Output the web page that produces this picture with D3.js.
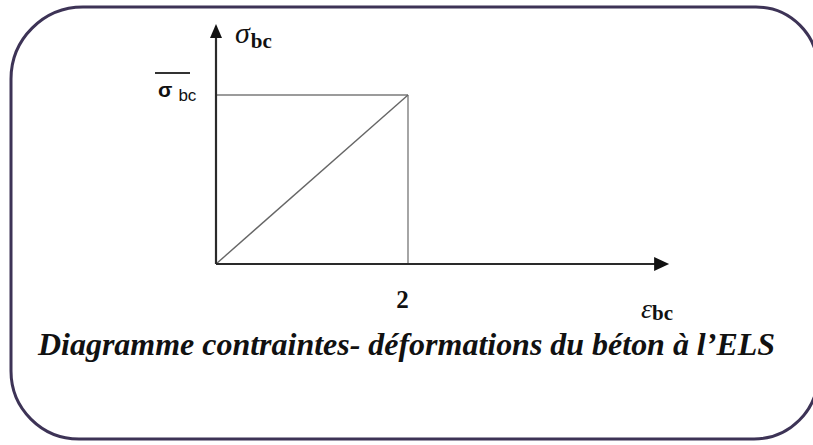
<!DOCTYPE html>
<html>
<head>
<meta charset="utf-8">
<script src="https://cdn.jsdelivr.net/npm/d3@7"></script>
<style>
  html, body { margin: 0; padding: 0; background: #fff; overflow: hidden; }
  svg { display: block; }
</style>
</head>
<body>
<div id="chart"></div>
<script>
// Data: ELS stress-strain diagram of concrete (linear up to 2‰)
const strain = [0, 2];          // εbc (‰)
const stress = [0, 1];          // σbc / σ̄bc
const xAxisMax = 4.72;          // end of the strain arrow
const yAxisMax = 1.42;          // end of the stress arrow
const xTickValues = [2];
const xTickLabels = ["2"];
const caption = "Diagramme contraintes- déformations du béton à l\u2019ELS";

const width = 813, height = 445;
const serif = '"Liberation Serif"', sans = '"Liberation Sans"';

let svg = d3.select("#chart")
    .append("svg")
    .attr("width", width)
    .attr("height", height)
    .attr("viewBox", [0, 0, width, height]);

// rounded frame (right side runs just past the window edge)
const fl = 11, ft = 7, fr = 818, fb = 439;
let frame = d3.path();
frame.moveTo(fl + 72, ft);
frame.lineTo(fr - 62, ft);
frame.arcTo(fr, ft, fr, ft + 62, 62);
frame.lineTo(fr, fb - 64);
frame.arcTo(fr, fb, fr - 64, fb, 64);
frame.lineTo(fl + 68, fb);
frame.arcTo(fl, fb, fl, fb - 68, 68);
frame.lineTo(fl, ft + 72);
frame.arcTo(fl, ft, fl + 72, ft, 72);
frame.closePath();
svg.append("path")
    .attr("d", frame.toString())
    .attr("fill", "none")
    .attr("stroke", "#3d3356")
    .attr("stroke-width", 3);

let x = d3.scaleLinear()      // strain -> pixels
    .domain([0, 2])
    .range([216, 408]);

let y = d3.scaleLinear()      // stress -> pixels
    .domain([0, 1])
    .range([264, 95]);

// guide lines to the peak point
svg.append("line")
    .attr("x1", x(0)).attr("x2", x(strain[1]))
    .attr("y1", y(stress[1])).attr("y2", y(stress[1]))
    .attr("stroke", "#7a7a7a").attr("stroke-width", 1.3);

svg.append("line")
    .attr("x1", x(strain[1])).attr("x2", x(strain[1]))
    .attr("y1", y(0)).attr("y2", y(stress[1]))
    .attr("stroke", "#6a6a6a").attr("stroke-width", 1.2);

// the linear law
svg.append("path")
    .datum(strain.map((s, i) => [s, stress[i]]))
    .attr("fill", "none")
    .attr("stroke", "#666")
    .attr("stroke-width", 1.4)
    .attr("d", d3.line().x(d => x(d[0])).y(d => y(d[1])));

// axes with arrows
svg.append("line")
    .attr("x1", x(0)).attr("x2", x(xAxisMax) - 14)
    .attr("y1", y(0)).attr("y2", y(0))
    .attr("stroke", "#2a2a2a").attr("stroke-width", 2.2);

svg.append("path")
    .attr("d", `M${x(xAxisMax)},${y(0)} L${x(xAxisMax) - 15},${y(0) - 7} L${x(xAxisMax) - 15},${y(0) + 7} Z`)
    .attr("fill", "#111");

svg.append("line")
    .attr("x1", x(0)).attr("x2", x(0))
    .attr("y1", y(0)).attr("y2", y(yAxisMax) + 12)
    .attr("stroke", "#2a2a2a").attr("stroke-width", 2.2);

svg.append("path")
    .attr("d", `M${x(0)},${y(yAxisMax)} L${x(0) - 6},${y(yAxisMax) + 14} L${x(0) + 6},${y(yAxisMax) + 14} Z`)
    .attr("fill", "#111");

// tick label "2"
let xAxis = svg.append("g")
    .attr("transform", `translate(0,${y(0)})`)
    .call(d3.axisBottom(x)
        .tickValues(xTickValues)
        .tickFormat((d, i) => xTickLabels[i])
        .tickSize(0)
        .tickPadding(26));
xAxis.select(".domain").remove();
xAxis.selectAll("text")
    .attr("dx", -6)
    .attr("fill", "#111")
    .style("font-family", serif)
    .style("font-weight", "bold")
    .style("font-size", "25px");

// axis names
let yName = svg.append("text")
    .attr("x", x(0) + 19)
    .attr("y", 43)
    .attr("fill", "#111")
    .style("font-family", serif);
yName.append("tspan").text("σ")
    .style("font-style", "italic").style("font-size", "30px");
yName.append("tspan").text("bc")
    .attr("dy", 5).attr("dx", 1)
    .style("font-weight", "bold").style("font-size", "21px");

let xName = svg.append("text")
    .attr("x", 641)
    .attr("y", 318)
    .attr("fill", "#111")
    .style("font-family", serif);
xName.append("tspan").text("ε")
    .style("font-style", "italic").style("font-size", "28px");
xName.append("tspan").text("bc")
    .attr("dy", 2)
    .style("font-weight", "bold").style("font-size", "21px");

// σ̄bc label at the peak level
let peak = svg.append("text")
    .attr("x", 158)
    .attr("y", y(stress[1]) + 2)
    .attr("fill", "#111")
    .style("font-family", sans);
peak.append("tspan").text("σ")
    .style("font-weight", "bold").style("font-size", "21px");
peak.append("tspan").text("bc")
    .attr("dy", 4).attr("dx", 6)
    .style("font-size", "17px");

svg.append("line")
    .attr("x1", 155).attr("x2", 190)
    .attr("y1", y(stress[1]) - 22).attr("y2", y(stress[1]) - 22)
    .attr("stroke", "#333").attr("stroke-width", 2);

// caption
svg.append("text")
    .attr("x", 38)
    .attr("y", 355)
    .attr("textLength", 737)
    .attr("lengthAdjust", "spacingAndGlyphs")
    .attr("fill", "#111")
    .style("font-family", serif)
    .style("font-style", "italic")
    .style("font-weight", "bold")
    .style("font-size", "32px")
    .text(caption);
</script>
</body>
</html>
